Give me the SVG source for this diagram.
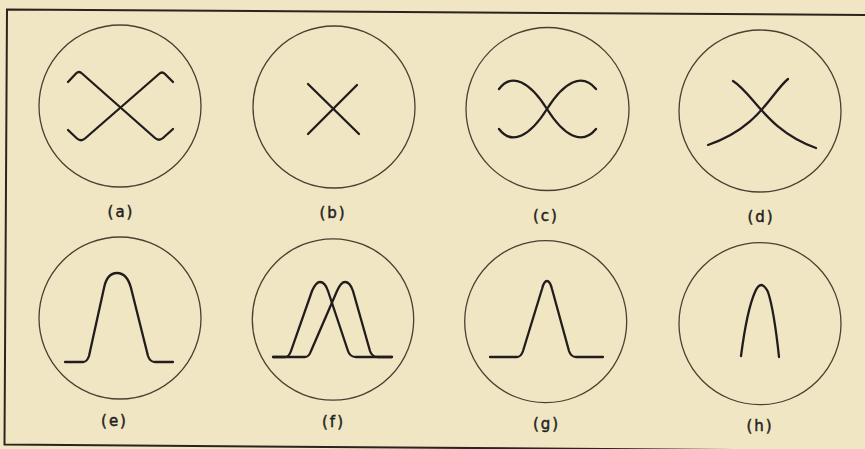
<svg xmlns="http://www.w3.org/2000/svg" width="865" height="449" viewBox="0 0 865 449">
<style>
.bg{fill:#f0e6c4}
.frame{fill:none;stroke:#2a241c;stroke-width:2}
.ring{fill:none;stroke:#4a4030;stroke-width:1.3}
.trace{fill:none;stroke:#221c1c;stroke-width:2.3;stroke-linecap:round;stroke-linejoin:round}
.lbl{font-family:"DejaVu Sans",sans-serif;font-size:15px;fill:#231e1c;stroke:#231e1c;stroke-width:0.45;text-anchor:middle;letter-spacing:2px}
</style>
<rect class="bg" x="0" y="0" width="865" height="449"/>
<path class="frame" d="M866,15 L7,9.5 L4.5,444.5 L866,451"/>
<g id="panel-a">
<circle class="ring" cx="120" cy="106" r="81"/>
<path class="trace" d="M68,82 L76,73.5 Q79,70.5 82,73.5 L155,138 Q159,141.5 163,138 L173,129"/>
<path class="trace" d="M68,130 L77,138.5 Q81,142 85,138.5 L159,74 Q162,71 165,74 L173,82"/>
<text class="lbl" x="121" y="217">(a)</text>
</g>
<g id="panel-b">
<circle class="ring" cx="334" cy="107" r="81"/>
<path class="trace" d="M308,84 L359,134 M357,85 L308,134"/>
<text class="lbl" x="333" y="218">(b)</text>
</g>
<g id="panel-c">
<circle class="ring" cx="547.5" cy="109" r="81.5"/>
<path class="trace" d="M499,89 C512,72 530,82 547,109 C564,136 582,146 596,129"/>
<path class="trace" d="M499,129 C512,146 530,136 547,109 C564,82 582,72 596,89"/>
<text class="lbl" x="546" y="221">(c)</text>
</g>
<g id="panel-d">
<circle class="ring" cx="760" cy="111" r="81"/>
<path class="trace" d="M733,81 C754,94 766,130 816,148"/>
<path class="trace" d="M788,79 C771,93 759,128 708,145"/>
<text class="lbl" x="761" y="222">(d)</text>
</g>
<g id="panel-e">
<circle class="ring" cx="120" cy="318" r="81"/>
<path class="trace" d="M65,362 L83,362 Q87,362 89,356 L104,288 Q107,273 117,273 Q127,273 131,288 L148,356 Q150,362 155,362 L173,362"/>
<text class="lbl" x="114.5" y="426">(e)</text>
</g>
<g id="panel-f">
<circle class="ring" cx="333" cy="319.5" r="80.7"/>
<path class="trace" d="M273,357 L285,357 Q289,357 291,351 L312,291 Q316,282 320,282 Q325,282 328,291 L348,351 Q350,357 356,357 L392,357"/>
<path class="trace" d="M273,357 L305,357 Q309,357 311,351 L337,291 Q341,282 345,282 Q350,282 353,291 L370,351 Q372,357 378,357 L392,357"/>
<text class="lbl" x="333.5" y="427">(f)</text>
</g>
<g id="panel-g">
<circle class="ring" cx="545.7" cy="321.7" r="81"/>
<path class="trace" d="M490,357 L517,357 Q521,357 523,351 L542,289 Q544,281 547,281 Q550,281 552,289 L569,351 Q571,357 576,357 L603,357"/>
<text class="lbl" x="546.5" y="429">(g)</text>
</g>
<g id="panel-h">
<circle class="ring" cx="760" cy="323.7" r="81"/>
<path class="trace" d="M741,356 Q747,310 755,292 Q761,278 768,292 Q774,310 779,357"/>
<text class="lbl" x="760" y="431">(h)</text>
</g>
</svg>
